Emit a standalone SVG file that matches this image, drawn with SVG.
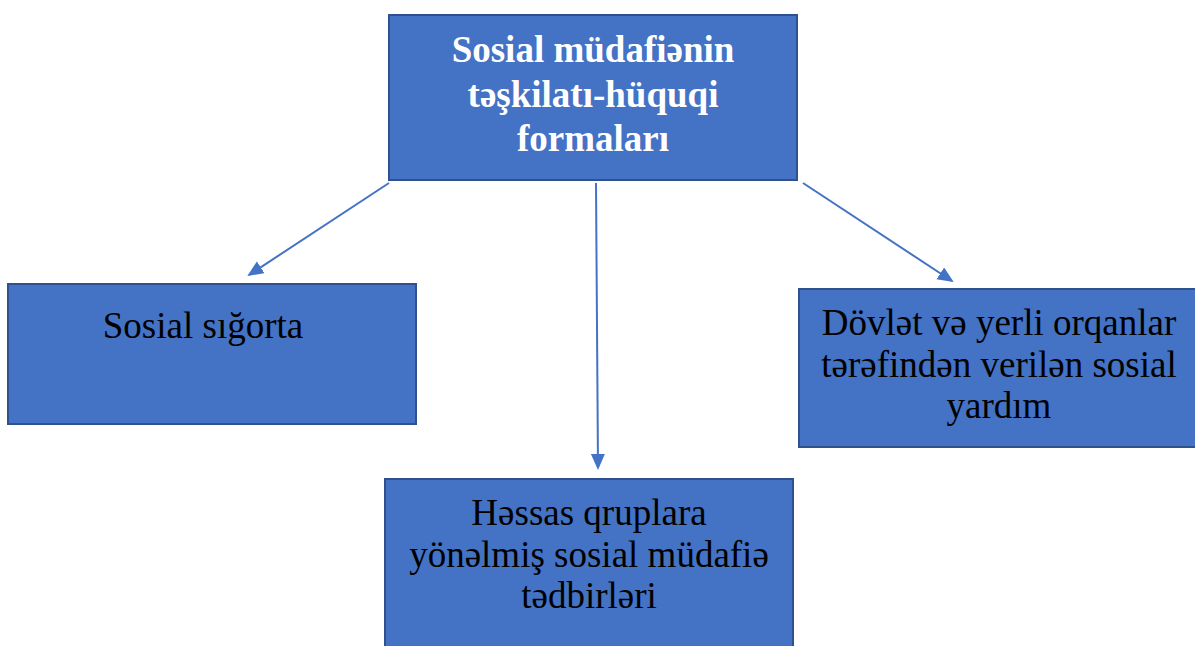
<svg xmlns="http://www.w3.org/2000/svg" width="1195" height="646" viewBox="0 0 1195 646">
<style>
.box{fill:#4472C4;stroke:#2F528F;stroke-width:2}
.t{font-family:"Liberation Serif","Times New Roman",serif;font-size:37px;fill:#000;text-anchor:middle}
.tb{font-family:"Liberation Serif","Times New Roman",serif;font-size:37px;font-weight:bold;fill:#fff;text-anchor:middle}
.c{stroke:#4472C4;stroke-width:2;fill:none;marker-end:url(#ah)}
</style>
<defs>
<marker id="ah" markerWidth="8" markerHeight="8" refX="7" refY="3.5" orient="auto" markerUnits="strokeWidth">
<path d="M0,0 L8,3.5 L0,7 Z" fill="#4472C4"/>
</marker>
</defs>
<rect width="1195" height="646" fill="#fff"/>
<g id="connectors">
<line class="c" x1="389" y1="183" x2="249" y2="275"/>
<line class="c" x1="596" y1="183" x2="598" y2="468"/>
<line class="c" x1="803" y1="183" x2="952" y2="281"/>
</g>
<g id="root">
<rect class="box" x="389" y="15" width="408" height="165"/>
<text class="tb" x="593" y="62">Sosial müdafiənin</text>
<text class="tb" x="593" y="107">təşkilatı-hüquqi</text>
<text class="tb" x="593" y="151">formaları</text>
</g>
<g id="n1">
<rect class="box" x="8" y="284" width="408" height="140"/>
<text class="t" x="203" y="338">Sosial sığorta</text>
</g>
<g id="n2">
<rect class="box" x="385" y="479" width="408" height="180"/>
<text class="t" x="589" y="525">Həssas qruplara</text>
<text class="t" x="589" y="567">yönəlmiş sosial müdafiə</text>
<text class="t" x="589" y="608">tədbirləri</text>
</g>
<g id="n3">
<rect class="box" x="799" y="289" width="408" height="158"/>
<text class="t" x="999" y="335">Dövlət və yerli orqanlar</text>
<text class="t" x="999" y="377">tərəfindən verilən sosial</text>
<text class="t" x="999" y="418">yardım</text>
</g>
</svg>
